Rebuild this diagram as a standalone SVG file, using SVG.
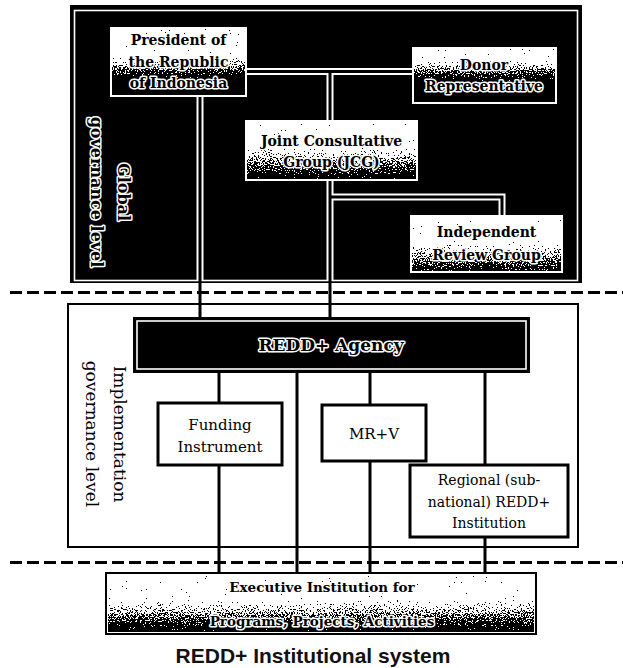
<svg xmlns="http://www.w3.org/2000/svg" width="623" height="668" viewBox="0 0 623 668">
  <defs>
    <style>
      .frame { fill: #000; }
      .inner { fill: none; stroke: #fff; stroke-width: 1.6; }
      .impl { fill: #fff; stroke: #000; stroke-width: 2; }
      .divider { fill: none; stroke: #000; stroke-width: 3; stroke-dasharray: 12 5; }
      .halo { fill: none; stroke: #fff; stroke-width: 7; }
      .link { fill: none; stroke: #000; stroke-width: 3; }
      .gbox { fill: #fff; }
      .ibox { fill: #fff; stroke: #000; stroke-width: 3; }
      .ebox { fill: #fff; stroke: #000; stroke-width: 2; }
      .agency { fill: #000; }
      .t { font-family: "DejaVu Serif", "Liberation Serif", serif; text-anchor: middle; fill: #000; }
      .tb { font-weight: bold; font-size: 14px; stroke: #fff; stroke-width: 3; paint-order: stroke; stroke-linejoin: round; }
      .tn { font-size: 15px; }
      .lab { font-size: 16px; font-weight: bold; stroke: #fff; stroke-width: 3; paint-order: stroke; stroke-linejoin: round; }
      .lab2 { font-size: 17px; }
      .title { font-family: "Liberation Sans", Arial, sans-serif; font-weight: bold; font-size: 21px; text-anchor: middle; fill: #111; }
    </style>
    <!-- speckled scan shading: gradient alpha thresholded against noise -->
    <filter id="grain" x="0" y="0" width="1" height="1" color-interpolation-filters="sRGB">
      <feTurbulence type="fractalNoise" baseFrequency="0.75" numOctaves="2" seed="7" result="noise"/>
      <feColorMatrix in="noise" type="matrix" values="0 0 0 0 0  0 0 0 0 0  0 0 0 0 0  1.8 0 0 0 -0.4" result="n"/>
      <feComposite in="SourceAlpha" in2="n" operator="arithmetic" k1="0" k2="1" k3="1" k4="-0.5" result="sum"/>
      <feComponentTransfer in="sum">
        <feFuncA type="discrete" tableValues="0 1"/>
      </feComponentTransfer>
    </filter>
    <linearGradient id="shPres" x1="0" y1="0" x2="0" y2="1">
      <stop offset="0.4" stop-color="#000" stop-opacity="0"/>
      <stop offset="0.76" stop-color="#000" stop-opacity="1"/>
    </linearGradient>
    <linearGradient id="shDonor" x1="0" y1="0" x2="0" y2="1">
      <stop offset="0.2" stop-color="#000" stop-opacity="0"/>
      <stop offset="0.6" stop-color="#000" stop-opacity="1"/>
    </linearGradient>
    <linearGradient id="shJcg" x1="0" y1="0" x2="0" y2="1">
      <stop offset="0.42" stop-color="#000" stop-opacity="0"/>
      <stop offset="1" stop-color="#000" stop-opacity="1"/>
    </linearGradient>
    <linearGradient id="shIrg" x1="0" y1="0" x2="0" y2="1">
      <stop offset="0.45" stop-color="#000" stop-opacity="0"/>
      <stop offset="1" stop-color="#000" stop-opacity="0.85"/>
    </linearGradient>
    <linearGradient id="shExec" x1="0" y1="0" x2="0" y2="1">
      <stop offset="0.42" stop-color="#000" stop-opacity="0"/>
      <stop offset="1" stop-color="#000" stop-opacity="1"/>
    </linearGradient>
  </defs>

  <rect width="623" height="668" fill="#fff"/>

  <!-- global governance level panel -->
  <g id="global-level">
    <rect class="frame" x="70" y="5" width="512" height="278"/>
    <rect class="inner" x="74.5" y="10.5" width="503" height="270"/>
    <text class="t lab" transform="translate(118,192) rotate(90)">Global</text>
    <text class="t lab" transform="translate(91,192) rotate(90)">governance level</text>
  </g>

  <!-- implementation governance level panel -->
  <g id="implementation-level">
    <rect class="impl" x="68" y="304" width="510" height="243"/>
    <text class="t lab2" transform="translate(114,434) rotate(90)">Implementation</text>
    <text class="t lab2" transform="translate(86,434) rotate(90)">governance level</text>
  </g>

  <!-- level dividers -->
  <g id="dividers">
    <line class="divider" x1="10" y1="292.5" x2="623" y2="292.5"/>
    <line class="divider" x1="10" y1="562.5" x2="623" y2="562.5"/>
  </g>

  <g id="connectors">
    <path class="halo" d="M247,71.5 H412 M330,71.5 V120 M200,97 V281 M330,181 V281 M330,197 H502 V215"/>
    <path class="link" d="M247,71.5 H412 M330,71.5 V120 M200,97 V317 M330,181 V317 M330,197 H502 V215"/>
    <path class="link" d="M219,373 V403 M219,465 V573 M297,373 V573 M370,373 V405 M370,461 V573 M485,373 V465 M485,537 V573"/>
  </g>

  <g id="president">
    <rect class="gbox" x="110" y="27" width="137" height="70"/>
    <rect x="112" y="29" width="133" height="66" fill="url(#shPres)" filter="url(#grain)"/>
    <text class="t tb" x="178.5" y="45">President of</text>
    <text class="t tb" x="178.5" y="67">the Republic</text>
    <text class="t tb" x="178.5" y="88">of Indonesia</text>
  </g>

  <g id="donor">
    <rect class="gbox" x="412" y="47" width="145" height="57"/>
    <rect x="414" y="49" width="141" height="53" fill="url(#shDonor)" filter="url(#grain)"/>
    <text class="t tb" x="484" y="70">Donor</text>
    <text class="t tb" x="484" y="91">Representative</text>
  </g>

  <g id="jcg">
    <rect class="gbox" x="245" y="120" width="173" height="61"/>
    <rect x="247" y="122" width="169" height="57" fill="url(#shJcg)" filter="url(#grain)"/>
    <text class="t tb" x="331.5" y="146">Joint Consultative</text>
    <text class="t tb" x="331.5" y="167">Group (JCG)</text>
  </g>

  <g id="review-group">
    <rect class="gbox" x="410" y="215" width="153" height="58"/>
    <rect x="412" y="217" width="149" height="54" fill="url(#shIrg)" filter="url(#grain)"/>
    <text class="t tb" x="486.5" y="237">Independent</text>
    <text class="t tb" x="486.5" y="260">Review Group</text>
  </g>

  <g id="agency">
    <rect class="agency" x="133" y="317" width="397" height="56"/>
    <rect class="inner" x="137" y="321" width="389" height="48"/>
    <text class="t lab" x="331" y="351" style="font-size:17px">REDD+ Agency</text>
  </g>

  <g id="funding">
    <rect class="ibox" x="158" y="403" width="124" height="62"/>
    <text class="t tn" x="220" y="430">Funding</text>
    <text class="t tn" x="220" y="452">Instrument</text>
  </g>

  <g id="mrv">
    <rect class="ibox" x="322" y="405" width="104" height="56"/>
    <text class="t tn" x="374" y="439">MR+V</text>
  </g>

  <g id="regional">
    <rect class="ibox" x="410" y="465" width="158" height="72"/>
    <text class="t tn" x="489" y="485" style="font-size:14px">Regional (sub-</text>
    <text class="t tn" x="489" y="507" style="font-size:14px">national) REDD+</text>
    <text class="t tn" x="489" y="528" style="font-size:14px">Institution</text>
  </g>

  <g id="executive">
    <rect class="ebox" x="106" y="573" width="430" height="61"/>
    <rect x="108" y="575" width="426" height="57" fill="url(#shExec)" filter="url(#grain)"/>
    <text class="t tb" x="322" y="592" style="font-size:13.5px">Executive Institution for</text>
    <text class="t tb" x="322" y="626" style="font-size:13.5px">Programs, Projects, Activities</text>
  </g>

  <text class="title" x="313" y="663">REDD+ Institutional system</text>
</svg>
